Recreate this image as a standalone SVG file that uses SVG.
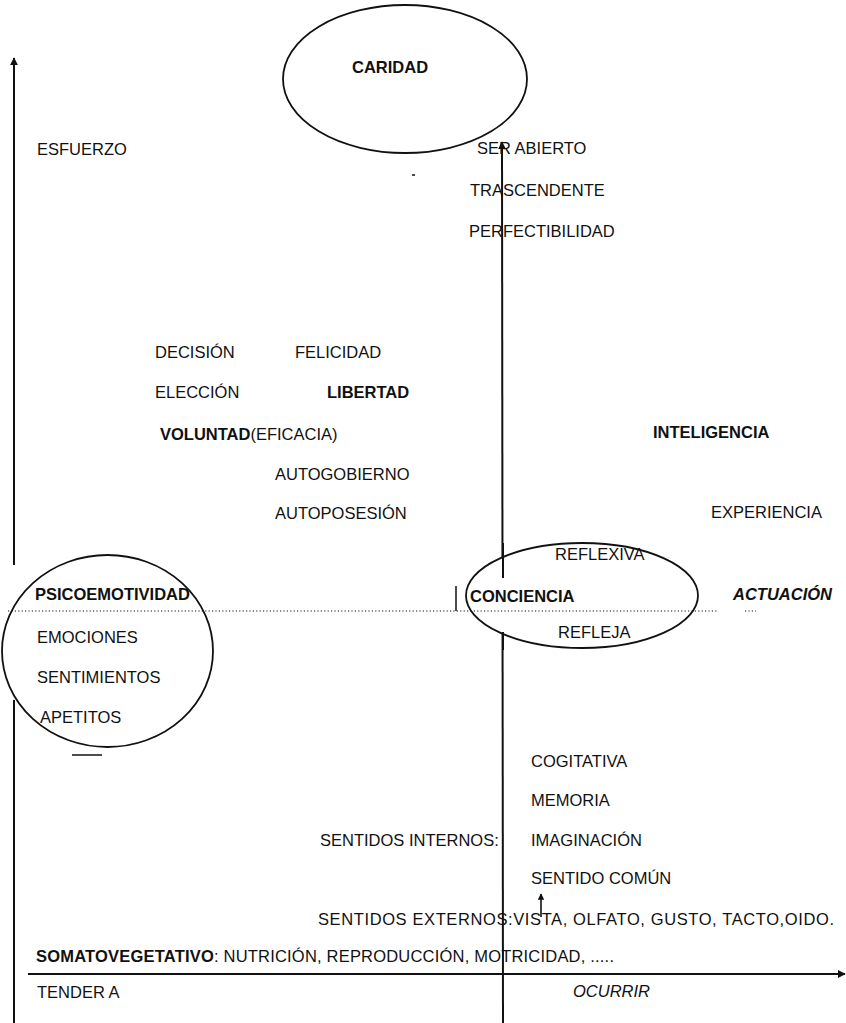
<svg xmlns="http://www.w3.org/2000/svg" width="846" height="1023" viewBox="0 0 846 1023">
<style>
text{font-family:"Liberation Sans",Arial,Helvetica,sans-serif;font-size:16.5px;fill:#111}
.b{font-weight:bold}
.i{font-style:italic}
.ax{stroke:#111;stroke-width:2;fill:none}
.el{stroke:#111;stroke-width:1.8}
.dot{stroke:#111;stroke-width:1.2;stroke-dasharray:1.2 2.2;fill:none}
</style>
<defs>
<marker id="ah" viewBox="0 0 10 10" refX="9" refY="5" markerWidth="4" markerHeight="4" orient="auto" markerUnits="strokeWidth">
<path d="M0,0 L10,5 L0,10 z" fill="#111"/>
</marker>
</defs>
<rect width="846" height="1023" fill="#fff"/>
<g id="connectors">
<line class="ax" x1="14" y1="565" x2="14" y2="58" marker-end="url(#ah)"/>
<line class="ax" x1="14" y1="700" x2="14" y2="1023"/>
<line class="ax" x1="503" y1="1023" x2="502" y2="142" marker-end="url(#ah)"/>
<line class="ax" x1="28" y1="974" x2="845" y2="974" marker-end="url(#ah)"/>
<line class="ax" x1="541" y1="917" x2="541" y2="894" marker-end="url(#ah)" style="stroke-width:1.6"/>
</g>
<g id="caridad">
<ellipse class="el" cx="405" cy="79" rx="122" ry="74" fill="none"/>
<text class="b" x="352" y="73">CARIDAD</text>
</g>
<g id="psicoemotividad">
<ellipse class="el" cx="107.5" cy="651" rx="105.5" ry="96" fill="#fff"/>
<text class="b" x="35" y="600">PSICOEMOTIVIDAD</text>
<text x="37" y="643">EMOCIONES</text>
<text x="37" y="683">SENTIMIENTOS</text>
<text x="40" y="723">APETITOS</text>
</g>
<g id="conciencia">
<ellipse class="el" cx="582" cy="595.5" rx="116" ry="52.5" fill="#fff"/>
<line x1="503" y1="543" x2="503" y2="578" class="ax"/>
<line x1="503" y1="632" x2="503" y2="650" class="ax"/>
<text x="555" y="560">REFLEXIVA</text>
<text class="b" x="470" y="602">CONCIENCIA</text>
<text x="558" y="638">REFLEJA</text>
<line x1="456" y1="586" x2="456" y2="611" stroke="#111" stroke-width="1.5"/>
</g>
<g id="divisoria">
<line class="dot" x1="8" y1="611" x2="718" y2="611"/>
<line class="dot" x1="745" y1="611" x2="756" y2="611"/>
<line x1="72" y1="755" x2="102" y2="755" stroke="#111" stroke-width="1.5"/>
<line x1="412" y1="175" x2="415" y2="175" stroke="#111" stroke-width="1.5"/>
</g>
<g id="esfuerzo"><text x="37" y="155">ESFUERZO</text></g>
<g id="ser-abierto">
<text x="477" y="154">SER  ABIERTO</text>
<text x="470" y="196">TRASCENDENTE</text>
<text x="469" y="237">PERFECTIBILIDAD</text>
</g>
<g id="voluntad">
<text x="155" y="358">DECISIÓN</text>
<text x="295" y="358">FELICIDAD</text>
<text x="155" y="398">ELECCIÓN</text>
<text class="b" x="327" y="398">LIBERTAD</text>
<text x="160" y="440"><tspan class="b">VOLUNTAD</tspan>(EFICACIA)</text>
<text x="275" y="480">AUTOGOBIERNO</text>
<text x="275" y="519">AUTOPOSESIÓN</text>
</g>
<g id="inteligencia">
<text class="b" x="653" y="438">INTELIGENCIA</text>
<text x="711" y="518">EXPERIENCIA</text>
</g>
<g id="actuacion"><text class="b i" x="733" y="600">ACTUACIÓN</text></g>
<g id="sentidos-internos">
<text x="531" y="767">COGITATIVA</text>
<text x="531" y="806">MEMORIA</text>
<text x="320" y="846">SENTIDOS INTERNOS:</text>
<text x="531" y="846">IMAGINACIÓN</text>
<text x="531" y="884">SENTIDO COMÚN</text>
</g>
<g id="sentidos-externos"><text x="318" y="925" textLength="516" lengthAdjust="spacing">SENTIDOS  EXTERNOS:VISTA,  OLFATO,  GUSTO,  TACTO,OIDO.</text></g>
<g id="somatovegetativo"><text x="36" y="962" textLength="578" lengthAdjust="spacing"><tspan class="b">SOMATOVEGETATIVO</tspan>: NUTRICIÓN, REPRODUCCIÓN, MOTRICIDAD, .....</text></g>
<g id="tender"><text x="37" y="998">TENDER A</text></g>
<g id="ocurrir"><text class="i" x="573" y="997">OCURRIR</text></g>
</svg>
